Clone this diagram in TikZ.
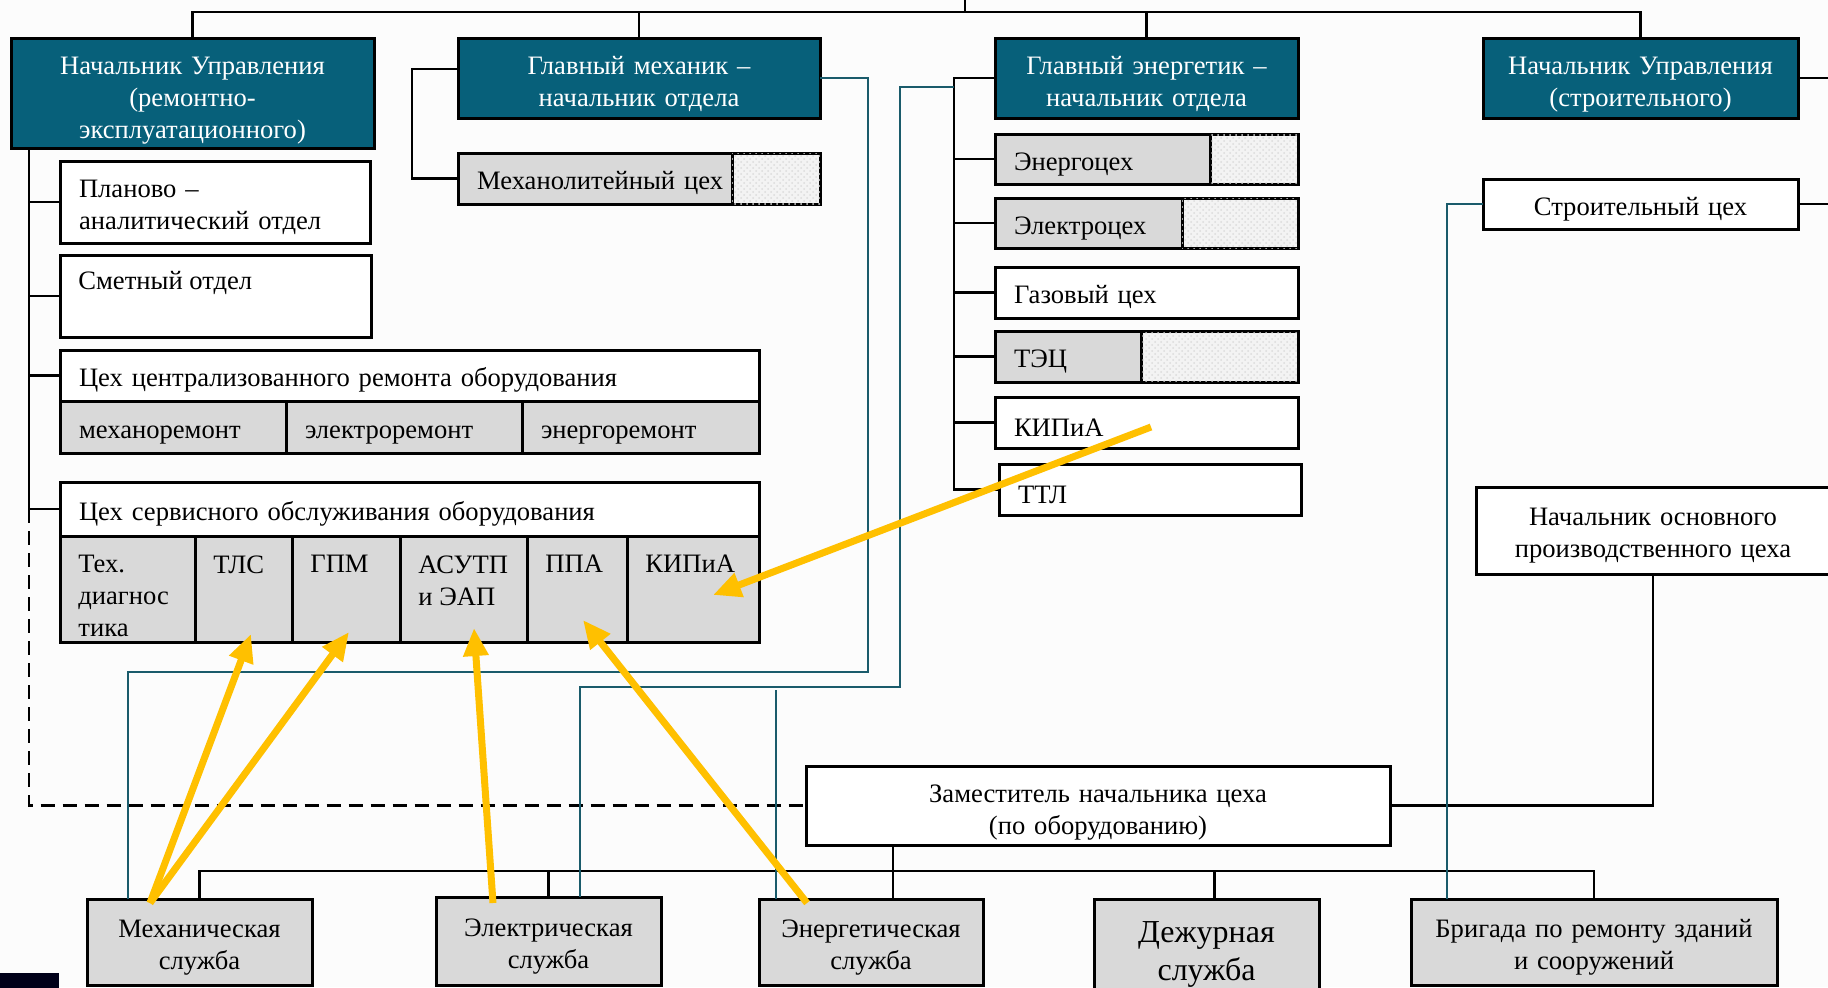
\documentclass[tikz,border=0pt]{standalone}
\usepackage{fontspec}
\setmainfont{Liberation Serif}
\usetikzlibrary{arrows.meta,patterns}
\definecolor{headteal}{HTML}{07607A}
\definecolor{linkteal}{HTML}{1A5B6B}
\definecolor{cellgray}{HTML}{D9D9D9}
\definecolor{hatchgray}{HTML}{F3F3F3}
\definecolor{arrowgold}{HTML}{FFC000}
\definecolor{pagebg}{HTML}{FCFCFC}

\begin{document}
\begin{tikzpicture}[x=0.5pt, y=-0.5pt, font=\fontsize{13.3}{16}\selectfont,
  tshift/.style={execute at begin node={\rule{0pt}{#1}}},
  box/.style={draw, line width=1.5pt, inner sep=0pt, outer sep=0pt, anchor=north west, tshift=14pt},
  headbox/.style={box, fill=headteal, text=white, align=center, tshift=15.3pt},
  wbox/.style={box, fill=white, inner xsep=9.5pt, align=left},
  gbox/.style={box, fill=cellgray, inner xsep=9.5pt, align=left},
  hbox/.style={box, fill=hatchgray, postaction={pattern=crosshatch dots, pattern color=black!14}},
  sbox/.style={box, fill=cellgray, align=center, tshift=13pt},
  celltext/.style={anchor=north west, inner xsep=9pt, inner ysep=9.5pt, align=left},
  conn/.style={line width=1.4pt},
  dconn/.style={conn, dash pattern=on 7pt off 4pt},
  tconn/.style={linkteal, line width=1pt},
  goldarrow/.style={arrowgold, line width=3.5pt, -{Triangle[length=14pt,width=12pt]}}]
\useasboundingbox (0,0) rectangle (1828,987);
\fill[pagebg] (0,0) rectangle (1828,987);

\node[headbox, text width=181.5pt, minimum height=55pt, tshift=16.5pt] (nur1) at (11,38) {Начальник Управления\\(ремонтно-\\эксплуатационного)};
\node[headbox, text width=181pt, minimum height=40pt] (glmech) at (458,38) {Главный механик –\\начальник отдела};
\node[headbox, text width=151.5pt, minimum height=40pt] (glen) at (995,38) {Главный энергетик –\\начальник отдела};
\node[headbox, text width=157.5pt, minimum height=40pt, tshift=15.8pt] (nur2) at (1483,38) {Начальник Управления\\(строительного)};

\node[wbox, text width=136pt, minimum height=41pt, tshift=13.3pt] (planovo) at (60,161) {Планово –\\аналитический отдел};
\node[wbox, minimum width=155.5pt, minimum height=41pt, label={[celltext, inner ysep=8pt]north west:Сметный отдел}] (smetn) at (60,255) {};
\node[wbox, text width=330.5pt, minimum height=25.5pt, tshift=11pt] (czr) at (60,350) {Цех централизованного ремонта оборудования};
\node[gbox, text width=94pt, minimum height=26pt] (mehrem) at (czr.south west) {механоремонт};
\node[gbox, text width=99pt, minimum height=26pt] (elrem) at (mehrem.north east) {электроремонт};
\node[gbox, text width=99.5pt, minimum height=26pt] (enrem) at (elrem.north east) {энергоремонт};
\node[wbox, text width=330.5pt, minimum height=27pt, tshift=11pt] (cso) at (60,482) {Цех сервисного обслуживания оборудования};
\node[gbox, minimum width=67.5pt, minimum height=53pt, label={[celltext]north west:{Тех.\\диагнос\\тика}}] (tehd) at (cso.south west) {};
\node[gbox, minimum width=48.5pt, minimum height=53pt, label={[celltext]north west:ТЛС}] (tls) at (tehd.north east) {};
\node[gbox, minimum width=54pt, minimum height=53pt, label={[celltext]north west:ГПМ}] (gpm) at (tls.north east) {};
\node[gbox, minimum width=63.5pt, minimum height=53pt, label={[celltext]north west:{АСУТП\\и ЭАП}}] (asutp) at (gpm.north east) {};
\node[gbox, minimum width=50pt, minimum height=53pt, label={[celltext]north west:ППА}] (ppa) at (asutp.north east) {};
\node[gbox, minimum width=66pt, minimum height=53pt, label={[celltext]north west:КИПиА}] (kipc) at (ppa.north east) {};

\node[gbox, text width=118pt, minimum height=25.5pt] (mehlit) at (458,153) {\mbox{Механолитейный цех}};
\node[hbox, minimum width=44pt, minimum height=25.5pt] (mehlith) at (mehlit.north east) {};

\node[gbox, text width=88.5pt, minimum height=25pt] (energc) at (995,134) {Энергоцех};
\node[hbox, minimum width=44pt, minimum height=25pt] (energch) at (energc.north east) {};
\node[gbox, text width=74.5pt, minimum height=25pt] (elektc) at (995,198) {Электроцех};
\node[hbox, minimum width=58pt, minimum height=25pt] (elektch) at (elektc.north east) {};
\node[wbox, text width=132.5pt, minimum height=25.5pt, tshift=13.3pt] (gazc) at (995,267) {Газовый цех};
\node[gbox, text width=54pt, minimum height=25.5pt, tshift=13.3pt] (tec) at (995,331) {ТЭЦ};
\node[hbox, minimum width=78.5pt, minimum height=25.5pt] (tech) at (tec.north east) {};
\node[wbox, text width=132.5pt, minimum height=25.5pt, tshift=11pt] (kipe) at (995,397) {КИПиА};
\node[wbox, text width=132pt, minimum height=25.5pt, tshift=11pt] (ttl) at (999,464) {ТТЛ};

\node[box, fill=white, align=center, text width=157.5pt, minimum height=25pt] (stroy) at (1483,179) {Строительный цех};
\node[box, fill=white, align=center, text width=177pt, minimum height=43.5pt, tshift=9pt] (nachosn) at (1476,487) {Начальник основного\\производственного цеха};
\node[box, fill=white, align=center, text width=292pt, minimum height=39.5pt, tshift=15.5pt] (zam) at (806,766) {Заместитель начальника цеха\\(по оборудованию)};

\node[sbox, text width=112.5pt, minimum height=43pt] (mehsl) at (87,899) {Механическая\\служба};
\node[sbox, text width=112.5pt, minimum height=44pt, tshift=11pt] (elsl) at (436,897) {Электрическая\\служба};
\node[sbox, text width=112pt, minimum height=43pt, tshift=14pt] (ensl) at (759,899) {Энергетическая\\служба};
\node[sbox, text width=112.5pt, minimum height=52pt, font=\fontsize{16}{19}\selectfont, tshift=14pt] (dezh) at (1094,899) {Дежурная\\служба};
\node[sbox, text width=183pt, minimum height=43pt] (brig) at (1411,899) {Бригада по ремонту зданий\\и сооружений};
\fill[black!90!blue] (0,973) rectangle (59,990);

\coordinate (topbus) at (965,12);
\draw[conn] (nur1.north) |- (topbus) -| (nur2.north);
\draw[conn] (glmech.north) -- (glmech.north |- topbus);
\draw[conn] (glen.north) -- (glen.north |- topbus);
\draw[conn] (topbus) -- ++(0,-14);
\draw[conn] (nur2.east) -- ++(40,0);
\draw[conn] (stroy.east) -- ++(40,0);

\coordinate (trunk) at ([xshift=9pt]nur1.south west);
\draw[conn] (trunk) -- (trunk |- cso.west);
\foreach \n in {planovo,smetn,czr,cso}
  \draw[conn] (trunk |- \n.west) -- (\n.west);
\draw[dconn] (trunk |- cso.west) -- (trunk |- zam.west) -- (zam.west);

\draw[conn] ([yshift=4.5pt]glmech.west) -- ++(-46,0) |- (mehlit.west);
\coordinate (entrunk) at ([xshift=-20.5pt]glen.west);
\draw[conn] (glen.west) -- (entrunk) -- (entrunk |- ttl.west) -- (ttl.west);
\foreach \n in {energc,elektc,gazc,tec,kipe}
  \draw[conn] (entrunk |- \n.west) -- (\n.west);

\draw[conn] (zam.east) -| (nachosn.south);
\coordinate (zamdrop) at ([xshift=43.5pt]zam.south west);
\coordinate (botbus) at (893,871);
\coordinate (dezhtop) at ([xshift=4pt]dezh.north);
\draw[conn] (zamdrop) -- ([xshift=11pt]ensl.north);
\draw[conn] (mehsl.north) |- (botbus) -| (brig.north);
\draw[conn] (elsl.north) -- (elsl.north |- botbus);
\draw[conn] (dezhtop) -- (dezhtop |- botbus);

\draw[tconn] (glmech.east) -- ++(48,0) |- (128,672) -- ([xshift=-35.75pt]mehsl.north);
\draw[tconn] ([yshift=-4.5pt]entrunk) -- ++(-54,0) |- (580,687) -- ([xshift=15.75pt]elsl.north);
\coordinate (entop) at (776,690);
\draw[tconn] (entop) -- ([xshift=-47.5pt]ensl.north);
\draw[tconn] (stroy.west) -| ([xshift=-73.5pt]brig.north);

\draw[goldarrow] ([xshift=-24.75pt,yshift=-2pt]mehsl.north) -- ([xshift=3.75pt,yshift=4pt]tls.south);
\draw[goldarrow] ([xshift=-24.75pt,yshift=-2pt]mehsl.north) -- ([xshift=1.5pt,yshift=5pt]gpm.south);
\draw[goldarrow] ([xshift=-27.75pt,yshift=-3pt]elsl.north) -- ([xshift=5.25pt,yshift=7pt]asutp.south);
\draw[goldarrow] ([xshift=-32pt,yshift=-2pt]ensl.north) -- ([xshift=3pt,yshift=11pt]ppa.south);
\draw[goldarrow] ([xshift=2.25pt,yshift=-2.25pt]kipe.center) -- ([xshift=10pt,yshift=-3pt]kipc.center);
\end{tikzpicture}
\end{document}
